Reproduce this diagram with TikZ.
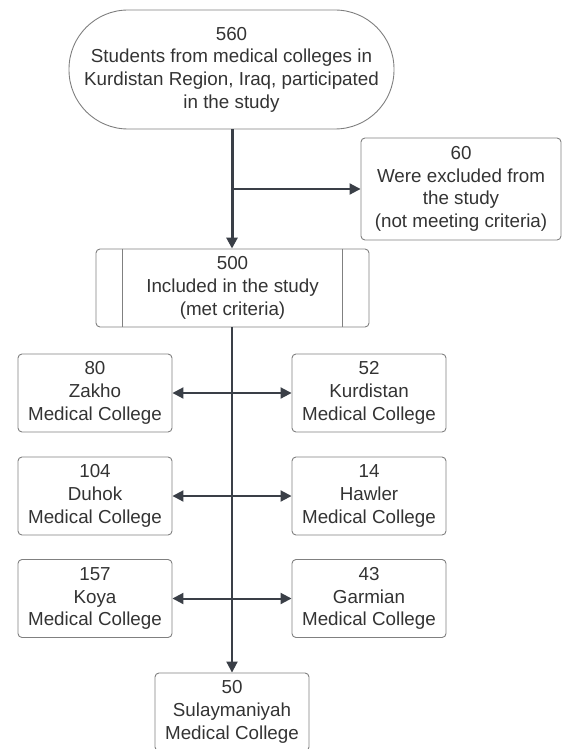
\documentclass[tikz,border=0pt]{standalone}
\usepackage{fontspec}
\setmainfont{Liberation Sans}
\usetikzlibrary{arrows.meta}
\definecolor{linec}{HTML}{3A3F47}
\definecolor{boxc}{HTML}{808080}
\definecolor{txt}{HTML}{333333}
\newcommand{\fsz}{\fontsize{18.8}{22.7}\selectfont}
\begin{document}
\begin{tikzpicture}[x=1pt,y=-1pt,
  box/.style={draw=boxc, line width=0.9pt, rounded corners=4pt, minimum width=154pt, minimum height=78pt, inner sep=0pt, align=center, font=\fsz, text=txt},
  term/.style={box, rounded corners=59pt, minimum width=325pt, minimum height=119pt},
  arr/.style={draw=linec, line width=2pt, -{Triangle[length=11pt,width=11pt]}},
  darr/.style={draw=linec, line width=2pt, {Triangle[length=11pt,width=11pt]}-{Triangle[length=11pt,width=11pt]}}]
\useasboundingbox (0,0) rectangle (562,749);
\node[term] (term) at (231.5,69.5) {560\\Students from medical colleges in\\Kurdistan Region, Iraq, participated\\in the study};
\node[box, minimum width=200pt, minimum height=102pt] (excl) at (461,189) {60\\Were excluded from\\the study\\(not meeting criteria)};
\node[box, minimum width=273pt, minimum height=78pt] (incl) at (232.5,288) {500\\Included in the study\\(met criteria)};
\draw[boxc, line width=0.9pt] ([xshift=27pt]incl.north west) -- ([xshift=27pt]incl.south west);
\draw[boxc, line width=0.9pt] ([xshift=-27pt]incl.north east) -- ([xshift=-27pt]incl.south east);
\node[box] (zakho) at (95,393) {80\\Zakho\\Medical College};
\node[box] (kurd) at (369,393) {52\\Kurdistan\\Medical College};
\node[box] (duhok) at (95,496) {104\\Duhok\\Medical College};
\node[box] (hawler) at (369,496) {14\\Hawler\\Medical College};
\node[box] (koya) at (95,598.5) {157\\Koya\\Medical College};
\node[box] (garm) at (369,598.5) {43\\Garmian\\Medical College};
\node[box] (sulay) at (232,712) {50\\Sulaymaniyah\\Medical College};
\coordinate (br) at (232,189);
\draw[arr, line width=3pt] (term.south -| br) -- (incl.north -| br);
\draw[arr] (br) -- (excl.west);
\draw[arr] (incl.south -| br) -- (sulay.north -| br);
\draw[darr] (zakho.east) -- (kurd.west);
\draw[darr] (duhok.east) -- (hawler.west);
\draw[darr] (koya.east) -- (garm.west);
\end{tikzpicture}
\end{document}
